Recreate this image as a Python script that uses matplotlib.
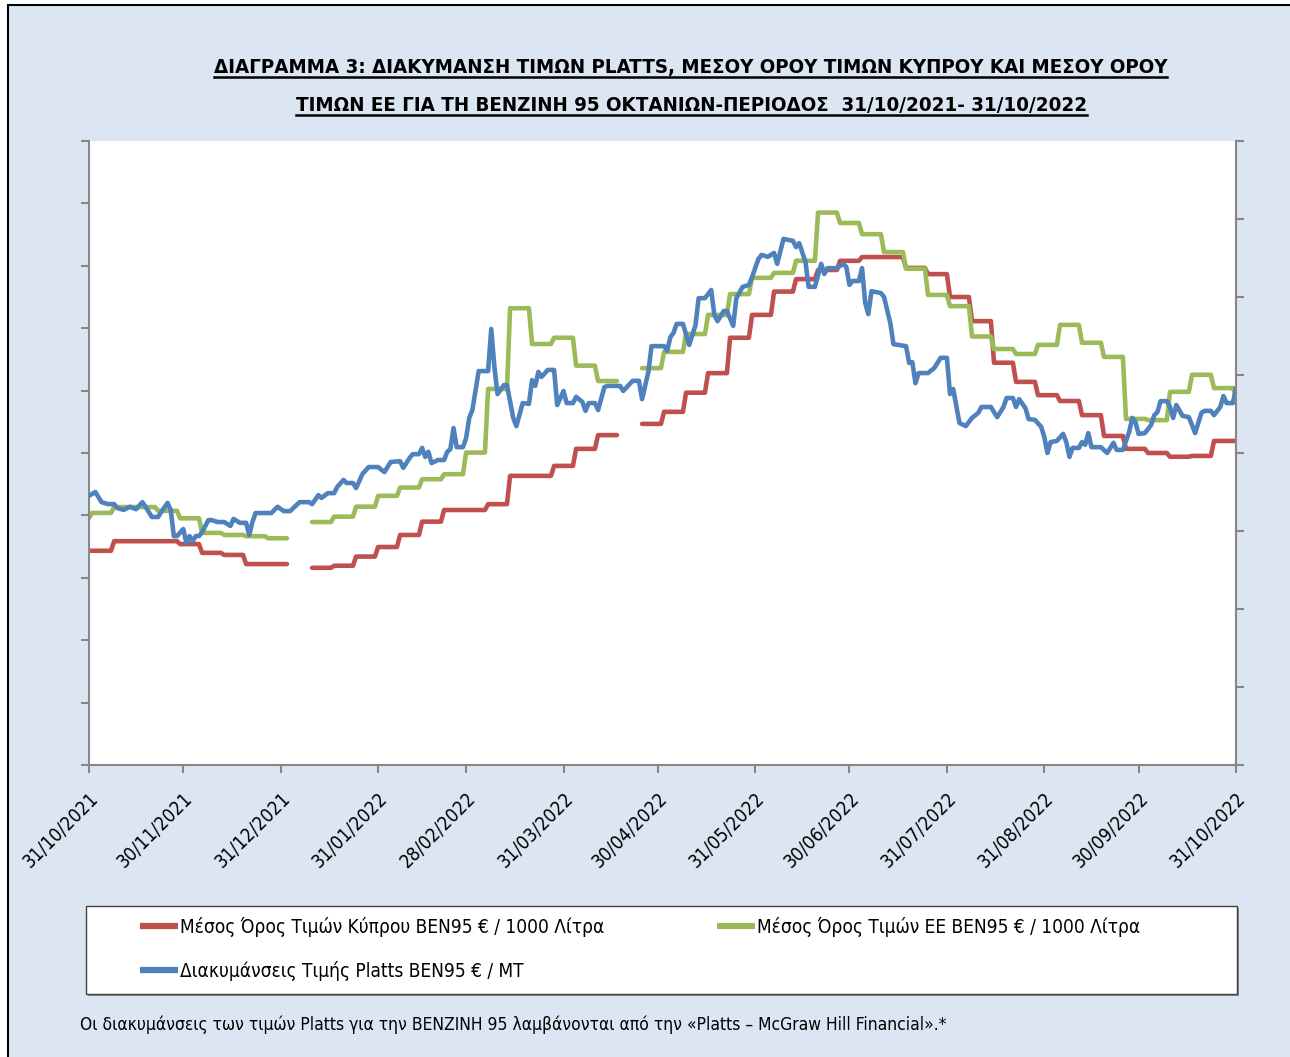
import numpy as np
import pandas as pd
import matplotlib
matplotlib.use('Agg')
import matplotlib.pyplot as plt
from matplotlib import font_manager as fm
from matplotlib.lines import Line2D
from matplotlib.patches import Rectangle
from matplotlib.transforms import ScaledTranslation

start = pd.Timestamp('2021-10-31')
end = pd.Timestamp('2022-10-31')

# weekly averages (weeks starting Monday 01/11/2021), nan = no data that week
cy_start = 1215
cy_weekly = [1215, 1238, 1238, 1238, 1231, 1210, 1205, 1183, 1183, np.nan,
             1174, 1179, 1201, 1224, 1253, 1285, 1313, 1313, 1327, 1395,
             1395, 1419, 1460, 1493, np.nan, 1520, 1549, 1595, 1642, 1727,
             1782, 1838, 1868, 1890, 1912, 1921, 1921, 1895, 1880, 1825,
             1767, 1667, 1621, 1589, 1575, 1541, 1491, 1460, 1450, 1441,
             1443, 1479, 1479]
eu_start = 1294
eu_weekly = [1306, 1320, 1320, 1311, 1293, 1258, 1253, 1250, 1245, np.nan,
             1284, 1297, 1321, 1347, 1367, 1387, 1399, 1451, 1604, 1798,
             1712, 1727, 1660, 1623, np.nan, 1654, 1693, 1736, 1782, 1832,
             1871, 1883, 1912, 2028, 2003, 1976, 1933, 1893, 1830, 1803,
             1730, 1700, 1688, 1710, 1758, 1715, 1681, 1532, 1529, 1597,
             1638, 1606, 1589]

# Platts, days after 31/10/2021 and price
platts_day = [0, 2, 4, 6, 8, 9, 11, 13, 15, 17, 18, 20, 22, 23, 25, 26, 27, 28,
              30, 31, 32, 33, 34, 35, 36, 38, 39, 41, 43, 45, 46, 48, 50, 51,
              52, 53, 58, 60, 62, 64, 67, 70, 71, 73, 74, 76, 78, 79, 81, 82,
              84, 85, 87, 89, 92, 94, 96, 99, 100, 102, 103, 105, 106, 107,
              108, 109, 111, 113, 114, 115, 116, 117, 119, 120, 121, 122, 124,
              127, 128, 129, 130, 132, 133, 135, 136, 138, 140, 141, 142, 143,
              144, 146, 148, 149, 151, 152, 154, 155, 157, 158, 159, 161, 162,
              164, 165, 169, 170, 173, 175, 176, 178, 179, 183, 184, 185, 186,
              187, 189, 191, 193, 194, 196, 198, 199, 200, 202, 203, 205, 206,
              208, 210, 211, 213, 214, 216, 218, 219, 221, 224, 225, 226, 228,
              229, 231, 233, 234, 235, 238, 240, 241, 242, 243, 245, 246, 247,
              248, 249, 252, 253, 255, 256, 260, 261, 262, 263, 264, 267, 269,
              271, 273, 274, 275, 277, 279, 281, 283, 284, 287, 289, 291, 292,
              294, 295, 296, 298, 299, 301, 303, 304, 305, 306, 308, 310, 311,
              312, 313, 315, 316, 317, 318, 319, 322, 324, 326, 327, 329, 331,
              332, 333, 334, 336, 338, 339, 340, 341, 343, 344, 345, 346, 348,
              350, 352, 354, 355, 357, 358, 360, 361, 362, 364, 365]
platts_val = [690, 700, 674, 669, 669, 659, 654, 662, 656, 674, 662, 636, 636,
              649, 672, 654, 587, 587, 605, 569, 587, 574, 587, 587, 597, 628,
              628, 623, 623, 613, 631, 621, 621, 590, 623, 646, 646, 662, 651,
              651, 674, 674, 669, 692, 685, 697, 697, 713, 731, 723, 723, 710,
              746, 764, 764, 751, 777, 779, 762, 787, 797, 797, 813, 790, 803,
              774, 782, 782, 803, 810, 864, 815, 815, 838, 890, 910, 1010,
              1010, 1118, 1021, 951, 974, 974, 890, 869, 928, 926, 987, 972,
              1008, 995, 1013, 1013, 923, 959, 928, 928, 944, 931, 908, 928,
              928, 910, 969, 972, 972, 959, 985, 985, 938, 1008, 1074, 1074,
              1062, 1097, 1108, 1131, 1131, 1077, 1128, 1197, 1197, 1218, 1154,
              1138, 1164, 1164, 1126, 1197, 1226, 1231, 1251, 1297, 1308, 1303,
              1313, 1285, 1349, 1344, 1328, 1338, 1290, 1226, 1226, 1285, 1259,
              1274, 1274, 1285, 1277, 1231, 1241, 1241, 1274, 1185, 1156, 1215,
              1210, 1200, 1133, 1079, 1074, 1031, 1033, 979, 1005, 1005, 1018,
              1044, 1044, 951, 964, 877, 869, 890, 903, 918, 918, 892, 918,
              941, 941, 918, 938, 915, 887, 885, 867, 841, 800, 828, 831, 849,
              828, 790, 813, 813, 828, 821, 851, 815, 815, 800, 826, 808, 808,
              854, 890, 879, 849, 851, 872, 897, 905, 933, 933, 918, 890, 923,
              895, 892, 851, 903, 908, 908, 897, 918, 946, 928, 928, 967]

month_ends = ['31/10/2021', '30/11/2021', '31/12/2021', '31/01/2022',
              '28/02/2022', '31/03/2022', '30/04/2022', '31/05/2022',
              '30/06/2022', '31/07/2022', '31/08/2022', '30/09/2022',
              '31/10/2022']

labels = ['Μέσος Όρος Τιμών Κύπρου ΒΕΝ95 € / 1000 Λίτρα',
          'Μέσος Όρος Τιμών ΕΕ ΒΕΝ95 € / 1000 Λίτρα',
          'Διακυμάνσεις Τιμής Platts BEN95 € / MT']
title1 = 'ΔΙΑΓΡΑΜΜΑ 3: ΔΙΑΚΥΜΑΝΣΗ ΤΙΜΩΝ PLATTS, ΜΕΣΟΥ ΟΡΟΥ ΤΙΜΩΝ ΚΥΠΡΟΥ ΚΑΙ ΜΕΣΟΥ ΟΡΟΥ'
title2 = 'ΤΙΜΩΝ ΕΕ ΓΙΑ ΤΗ ΒΕΝΖΙΝΗ 95 ΟΚΤΑΝΙΩΝ-ΠΕΡΙΟΔΟΣ  31/10/2021- 31/10/2022'
note = 'Οι διακυμάνσεις των τιμών Platts για την ΒΕΝΖΙΝΗ 95 λαμβάνονται από την «Platts – McGraw Hill Financial».*'

RED, GREEN, BLUE = '#C0504D', '#9BBB59', '#4F81BD'
GRAY = '#878787'
W, H = 1290, 1057


# narrow font if one is around, otherwise a plain one
def pick_font():
    for fam, st in [('Liberation Sans Narrow', 'normal'),
                    ('DejaVu Sans', 'condensed'),
                    ('Roboto Condensed', 'normal'),
                    ('Open Sans Condensed', 'normal'),
                    ('Noto Sans', 'condensed')]:
        try:
            p = fm.findfont(fm.FontProperties(family=fam, stretch=st),
                            fallback_to_default=False)
        except Exception:
            continue
        if 'ondensed' in p or 'Narrow' in p:
            return fam, st
    return 'Roboto', 'normal'


FAM, STRETCH = pick_font()
plt.rcParams['font.family'] = [FAM, 'DejaVu Sans']
plt.rcParams['font.stretch'] = STRETCH

# daily series from the weekly values
days = np.arange((end - start).days + 1)
wk = np.clip((days - 1) // 7, 0, len(cy_weekly) - 1)
dates = start + pd.to_timedelta(days, unit='D')
cy = np.array(cy_weekly, float)[wk]
cy[0] = cy_start
eu = np.array(eu_weekly, float)[wk]
eu[0] = eu_start
pl_dates = start + pd.to_timedelta(platts_day, unit='D')

fig = plt.figure(figsize=(W / 100, H / 100), dpi=100)
fig.patch.set_facecolor('white')
fig.add_artist(Rectangle((8 / W, -0.01), 1.02, 1 - 5 / H + 0.01,
                         transform=fig.transFigure, facecolor='#DCE6F2',
                         edgecolor='black', lw=1.5, zorder=-10))
r = fig.canvas.get_renderer()


def fit_size(txt, width_px, **kw):
    t = fig.text(0, 0, txt, fontsize=20, **kw)
    w = t.get_window_extent(r).width
    t.remove()
    return 20 * width_px / w


ax = fig.add_axes([89 / W, 1 - 765 / H, 1147 / W, 624 / H])
ax.set_facecolor('white')
ax2 = ax.twinx()

kw = dict(lw=3.3, solid_joinstyle='round', solid_capstyle='round')
l_cy, = ax.plot(dates, cy, color=RED, **kw)
l_eu, = ax.plot(dates, eu, color=GREEN, **kw)
l_pl, = ax2.plot(pl_dates, platts_val, color=BLUE, **kw)

ax.set_xlim(start, end)
ax.set_ylim(700, 2200)
ax.set_yticks(np.arange(700, 2201, 150))
ax.set_yticklabels([])
ax2.set_ylim(0, 1600)
ax2.set_yticks(np.arange(0, 1601, 200))
ax2.set_yticklabels([])

tick_dates = pd.to_datetime(month_ends, format='%d/%m/%Y')
ax.set_xticks(tick_dates)
xl = ax.set_xticklabels(month_ends, rotation=45, ha='right', va='top',
                        rotation_mode='anchor',
                        fontsize=fit_size(month_ends[0], 98))
for lbl in xl:
    lbl.set_transform(lbl.get_transform() +
                      ScaledTranslation(9 / 100, 0, fig.dpi_scale_trans))

for a in (ax, ax2):
    for s in a.spines.values():
        s.set_visible(False)
for s in ('left', 'bottom'):
    ax.spines[s].set_visible(True)
    ax.spines[s].set_color(GRAY)
    ax.spines[s].set_linewidth(1.5)
ax2.spines['right'].set_visible(True)
ax2.spines['right'].set_color(GRAY)
ax2.spines['right'].set_linewidth(1.5)
ax.tick_params(axis='both', direction='out', length=6, width=1.5, color=GRAY)
ax.tick_params(axis='x', pad=11)
ax2.tick_params(axis='y', direction='out', length=6, width=1.5, color=GRAY)

# titles
fs1 = fit_size(title1, 955, fontweight='bold')
fs2 = fit_size(title2, 791, fontweight='bold')
t1 = fig.text(690.5 / W, 1 - 73 / H, title1, ha='center', va='baseline',
              fontsize=fs1, fontweight='bold')
t2 = fig.text(691.5 / W, 1 - 111 / H, title2, ha='center', va='baseline',
              fontsize=fs2, fontweight='bold')

# legend box
fig.add_artist(Rectangle((88 / W, 1 - 996 / H), 1151 / W, 88 / H,
                         transform=fig.transFigure, facecolor='#8C8C8C',
                         edgecolor='none', zorder=1))
fig.add_artist(Rectangle((86 / W, 1 - 994 / H), 1151 / W, 88 / H,
                         transform=fig.transFigure, facecolor='white',
                         edgecolor='#404040', lw=1, zorder=2))
lfs = fit_size(labels[0], 425)
leg_kw = dict(loc='center left', frameon=False, fontsize=lfs,
              handlelength=38 / (lfs * 100 / 72), handletextpad=0.1,
              borderaxespad=0, borderpad=0)
leg1 = fig.legend([l_cy], [labels[0]], bbox_to_anchor=(140 / W, 1 - 927 / H), **leg_kw)
leg2 = fig.legend([l_eu], [labels[1]], bbox_to_anchor=(717 / W, 1 - 927 / H), **leg_kw)
leg3 = fig.legend([l_pl], [labels[2]], bbox_to_anchor=(140 / W, 1 - 971 / H), **leg_kw)
for lg in (leg1, leg2, leg3):
    lg.set_zorder(3)
    for h in lg.legend_handles:
        h.set_linewidth(4.5)
        h.set_solid_capstyle('butt')

fig.text(80 / W, 1 - 1025 / H, note, ha='left', va='center',
         fontsize=fit_size(note, 863))

# underline the title lines
fig.canvas.draw()
for t in (t1, t2):
    bb = t.get_window_extent(r)
    _, yb = fig.transFigure.transform(t.get_position())
    y = (yb - 3.5) / H
    fig.add_artist(Line2D([bb.x0 / W, bb.x1 / W], [y, y], color='black',
                          lw=1.8, transform=fig.transFigure))

fig.savefig('out.png', dpi=100)
